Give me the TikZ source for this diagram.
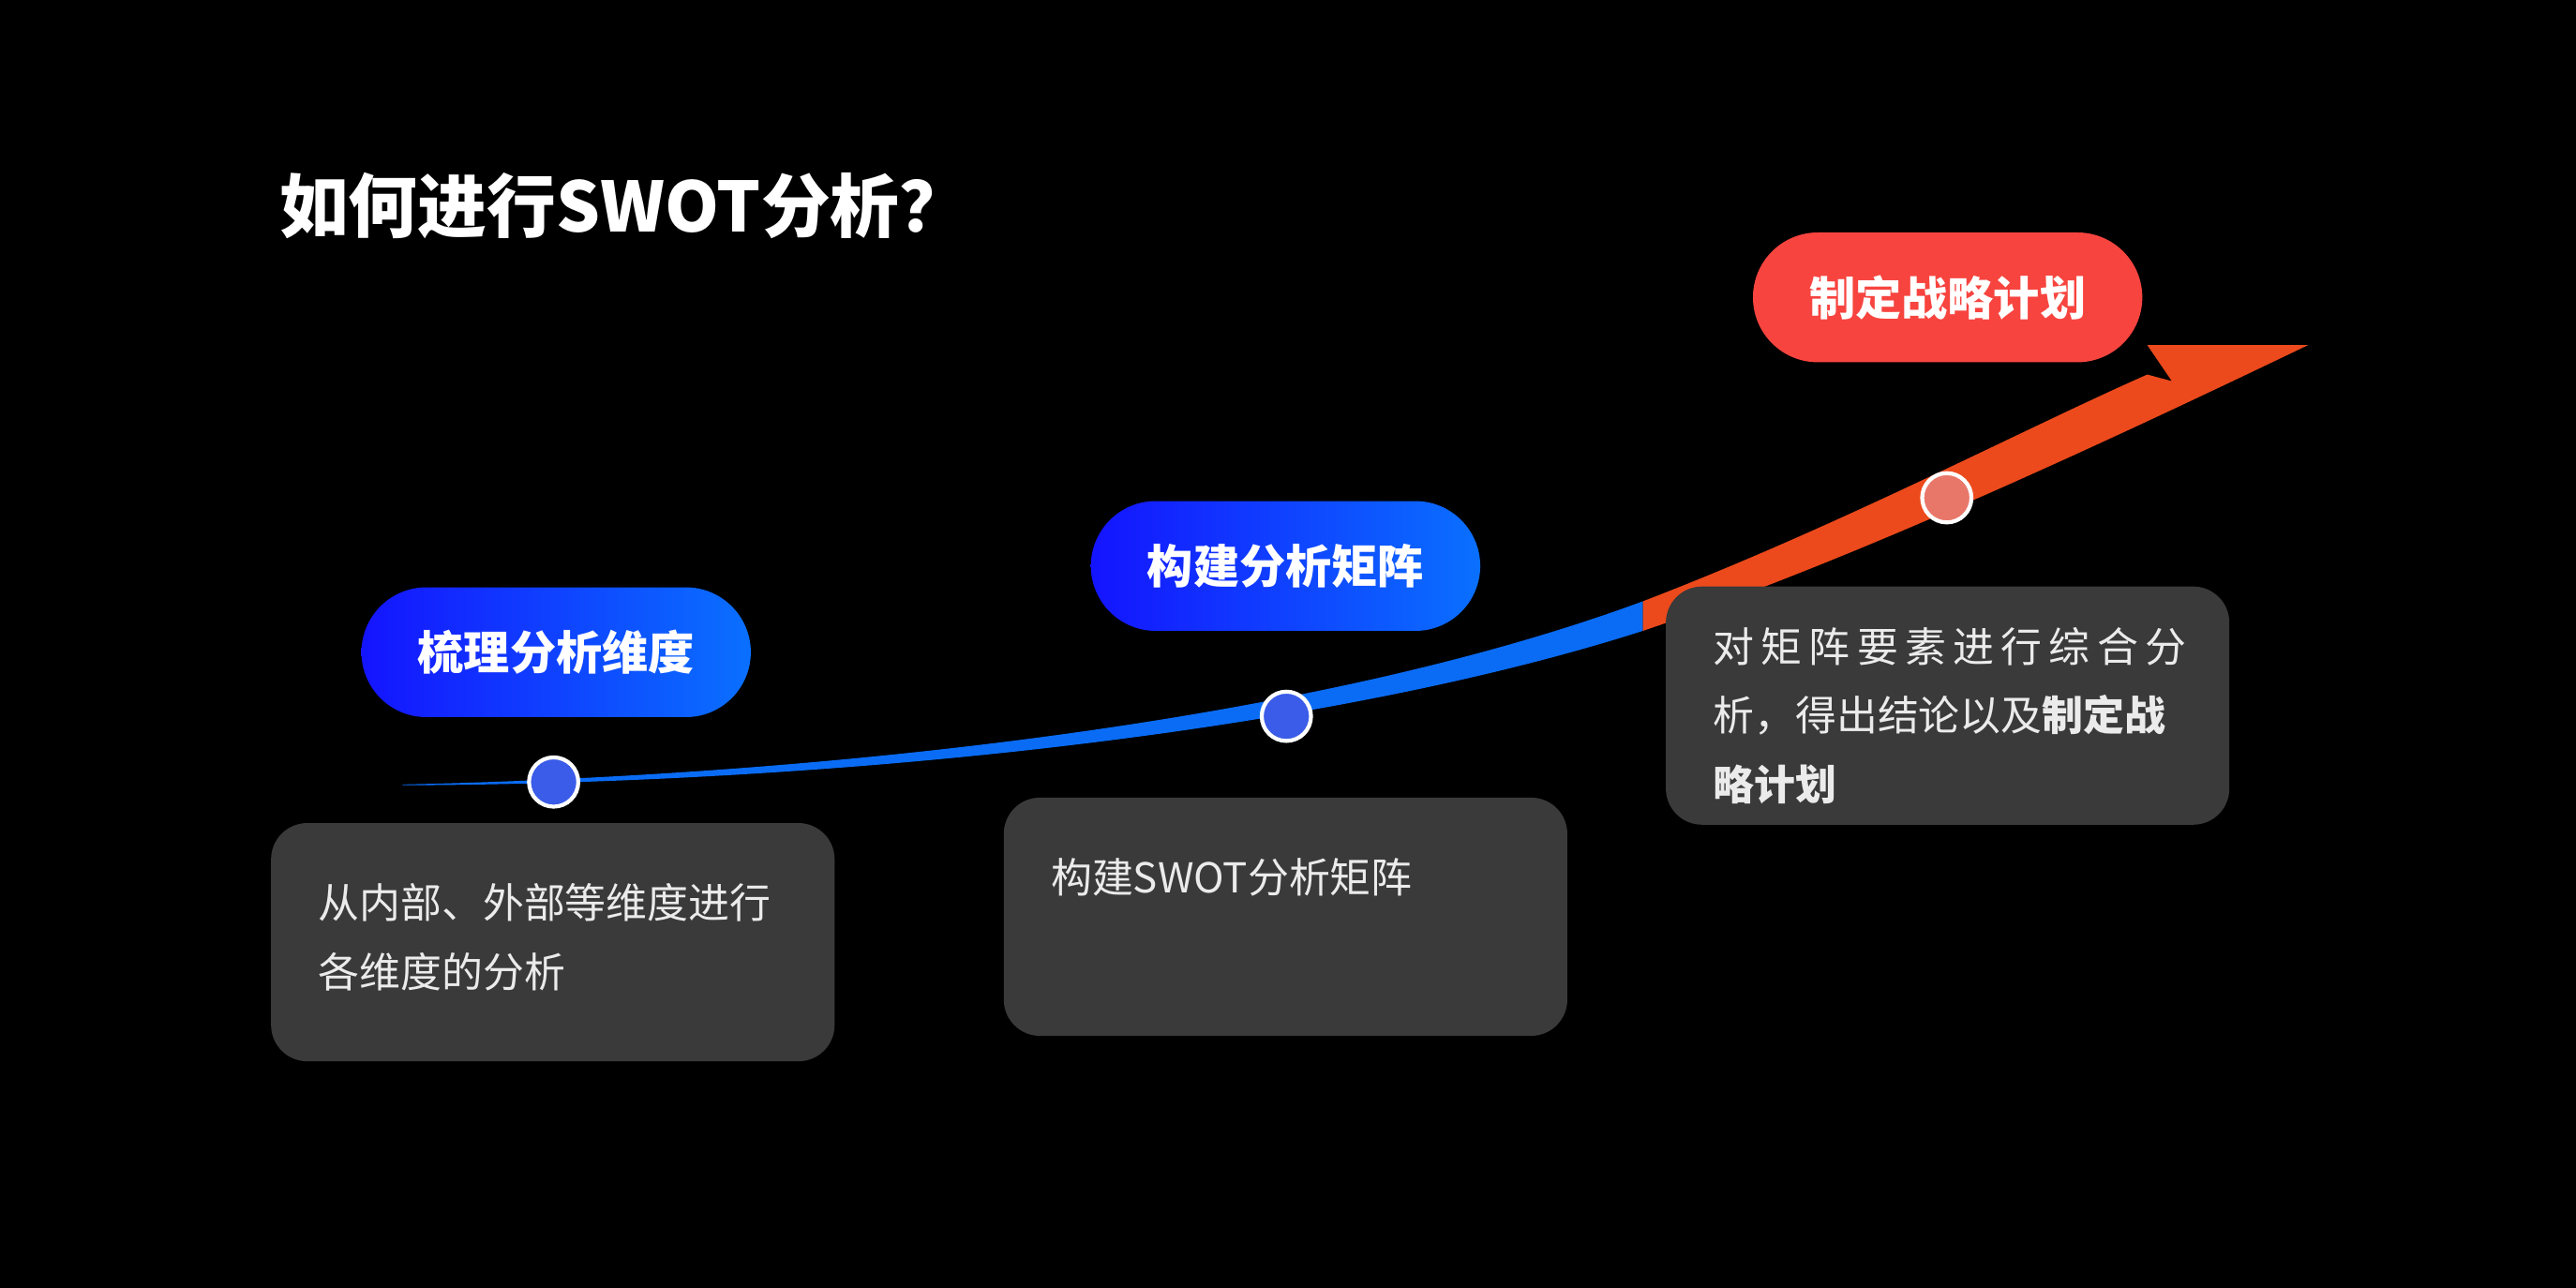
\documentclass[tikz,border=0pt]{standalone}
\usepackage{fontspec}
\setmainfont{Noto Sans CJK SC}
\usetikzlibrary{positioning}
\definecolor{bgblack}{HTML}{000000}
\definecolor{boxgray}{HTML}{3A3A3A}
\definecolor{blueL}{HTML}{1414FF}
\definecolor{blueR}{HTML}{0A70FF}
\definecolor{lineblue}{HTML}{0A6CF5}
\definecolor{lineorange}{HTML}{EC4A1C}
\definecolor{pillred}{HTML}{F7443F}
\definecolor{dotblue}{HTML}{3A5CE8}
\definecolor{dotred}{HTML}{E8776A}
\tikzset{
  pill/.style={rounded corners=39.5\unitpx, minimum width=237\unitpx, minimum height=79\unitpx,
    text=white, font=\fontsize{14}{16}\selectfont\bfseries, inner sep=0pt},
  bluepill/.style={pill, left color=blueL, right color=blueR},
  redpill/.style={pill, fill=pillred},
  infobox/.style={rounded corners=22\unitpx, fill=boxgray, minimum width=343\unitpx,
    minimum height=145\unitpx, inner sep=0pt},
  infotext/.style={text=white!92!black, font=\fontsize{12.5}{21}\selectfont, align=left, anchor=north west},
  stepdot/.style={circle, draw=white, line width=1.2pt, minimum size=30\unitpx, inner sep=0pt},
}
\newcommand{\unitpx}{*0.017526cm}
\begin{document}
\begin{tikzpicture}[x=0.017526cm, y=-0.017526cm]
\fill[bgblack] (0,0) rectangle (1568,784);
\useasboundingbox (0,0) rectangle (1568,784);

% titel
\node[anchor=west, text=white, font=\fontsize{21}{24}\selectfont\bfseries] (title) at (163,125) {如何进行SWOT分析？};

% kromme lijn
\fill[lineblue] (245,477.5) .. controls (500,472) and (800,440) .. (1000,366)
  -- (1000,384) .. controls (800,448) and (500,477) .. (245,478) -- cycle;
\fill[lineorange] (1000,366) .. controls (1120,320) and (1230,262) .. (1307,228)
  -- (1322,232) -- (1307,210) -- (1405,210)
  .. controls (1280,270) and (1130,340) .. (1000,384) -- cycle;

% tekstvakken
\node[infobox] (box1) at (336.5,573.5) {};
\node[infobox] (box2) at (782.5,558) {};
\node[infobox] (box3) at (1185.5,429.5) {};
\node[infotext] (txt1) at ([xshift=22\unitpx, yshift=-30\unitpx]box1.north west) {从内部、外部等维度进行\\各维度的分析};
\node[infotext] (txt2) at ([xshift=22\unitpx, yshift=-30\unitpx]box2.north west) {构建SWOT分析矩阵};
\node[infotext] (txt3) at ([xshift=22\unitpx, yshift=-18\unitpx]box3.north west) {对\,矩\,阵\,要\,素\,进\,行\,综\,合\,分\\析，得出结论以及\textbf{制定战}\\\textbf{略计划}};

% labels
\node[bluepill] (step1) at (338.5,397) {梳理分析维度};
\node[bluepill] (step2) at (782.5,344.5) {构建分析矩阵};
\node[redpill] (step3) at (1185.5,181) {制定战略计划};

% punten
\node[stepdot, fill=dotblue] (dot1) at (337,476) {};
\node[stepdot, fill=dotblue] (dot2) at (783,436) {};
\node[stepdot, fill=dotred] (dot3) at (1185,303) {};

\end{tikzpicture}
\end{document}
